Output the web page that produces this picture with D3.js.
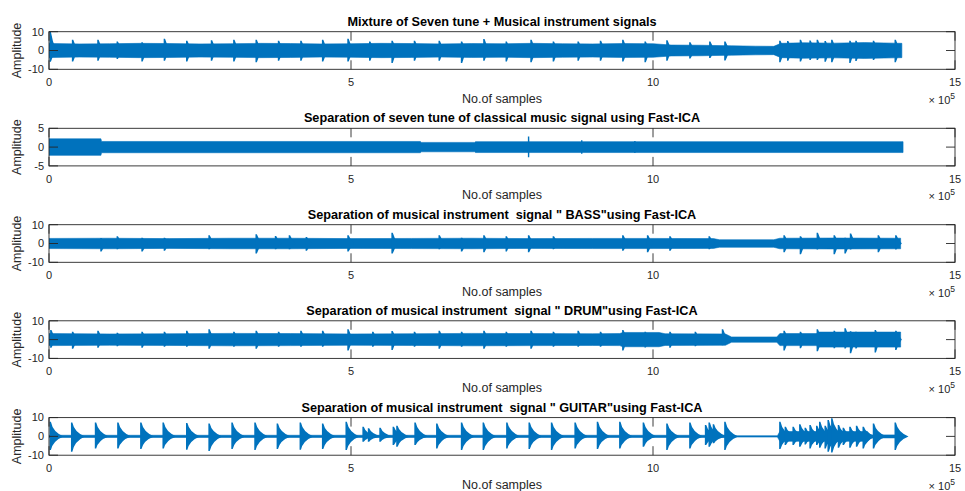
<!DOCTYPE html>
<html><head><meta charset="utf-8">
<script src="https://cdn.jsdelivr.net/npm/d3@7"></script>
<style>
html,body{margin:0;padding:0;background:#fff;}
svg{display:block;font-family:"Liberation Sans",Arial,Helvetica,sans-serif;}
text{white-space:pre;}
</style></head>
<body>
<svg id="c" width="965" height="491"></svg>
<script>
// ---------------- DATA (x in units of 10^5 samples) ----------------
const titles = [
  "Mixture of Seven tune + Musical instrument signals",
  "Separation of seven tune of classical music signal using Fast-ICA",
  "Separation of musical instrument  signal \" BASS\"using Fast-ICA",
  "Separation of musical instrument  signal \" DRUM\"using Fast-ICA",
  "Separation of musical instrument  signal \" GUITAR\"using Fast-ICA"
];
const xTicks = [0, 5, 10, 15];
const xTickLabels = ["0", "5", "10", "15"];
const yTicks1 = [-10, 0, 10];
const yTicks2 = [-5, 0, 5];
const xLabel = "No.of samples";
const yLabel = "Amplitude";

// Mixture: envelope + spikes
const mixEnvX = [0, 0.05, 0.5, 1, 1.5, 2, 2.5, 3, 3.5, 4, 4.5, 5, 5.5, 6, 6.5, 7, 7.5, 8, 8.5, 9, 9.5, 10, 10.3, 10.8, 11.3, 11.7, 12.0, 12.12, 12.5, 13, 13.5, 14, 14.12];
const mixEnvA = [3.9, 3.7, 3.5, 3.6, 3.8, 3.7, 3.5, 3.6, 3.8, 3.7, 3.5, 3.6, 3.8, 3.7, 3.5, 3.7, 3.6, 3.8, 3.6, 3.5, 3.7, 3.6, 2.9, 2.8, 2.5, 2.3, 2.2, 3.8, 4.1, 3.9, 4.2, 3.9, 3.8];
const mixSpkX  = [0.02,0.39,0.81,1.13,1.54,1.91,2.28,2.69,3.06,3.43,3.80,4.17,4.53,4.95,5.31,5.68,6.05,6.46,6.83,7.20,7.57,7.98,8.35,8.76,9.13,9.50,9.87,10.23,10.61,10.94,11.19,12.10,12.23,12.44,12.60,12.72,12.85,12.96,13.26,13.36,13.65,14.01];
const mixSpkUp = [9.8,5.7,5.7,4.8,4.4,6.2,5.2,5.4,5.7,5.7,5.2,5.2,5.7,6.2,4.8,5.2,5.2,5.2,4.8,6.1,4.8,5.7,4.8,4.8,5.2,5.7,4.8,5.5,4.4,4.8,4.8,5.2,5.0,5.7,5.3,5.7,5.0,5.7,5.2,5.2,5.2,5.7];
const mixSpkDn = [6.0,5.9,5.4,4.5,5.9,5.4,5.9,5.4,5.9,6.3,5.4,5.4,5.9,5.9,5.4,6.6,5.4,5.4,6.6,5.4,5.9,6.3,5.9,5.4,5.4,5.9,6.3,5.4,4.2,4.0,5.3,6.3,5.5,5.9,5.0,5.0,6.0,6.3,6.6,5.6,5.0,6.2];

// Seven tune (classical): envelope + a few spikes
const tuneEnvX = [0, 0.86, 0.87, 6.15, 6.16, 7.05, 7.06, 14.14];
const tuneEnvA = [2.2, 2.2, 1.5, 1.5, 1.25, 1.25, 1.45, 1.45];
const tuneSpkX  = [7.94, 8.82, 9.70];
const tuneSpkUp = [2.8, 1.8, 1.6];
const tuneSpkDn = [2.7, 1.8, 1.6];

// Bass
const bassEnvX = [0, 1, 2, 3, 4, 5, 6, 7, 8, 9, 10, 11.0, 11.1, 12.0, 12.1, 13, 14.1];
const bassEnvA = [2.7, 2.8, 2.6, 2.8, 2.8, 2.6, 2.7, 2.8, 2.6, 2.7, 2.7, 2.6, 2.0, 2.0, 2.8, 2.9, 2.8];
const bassSpkX  = [0.86,1.13,1.54,1.91,2.65,3.43,3.75,3.98,4.26,4.95,5.68,6.46,6.83,7.20,7.57,7.94,8.35,9.50,9.91,10.28,10.93,12.17,12.44,12.72,13.00,13.18,13.27,13.73,14.02];
const bassSpkUp = [2.9,3.8,3.0,3.0,4.4,4.9,4.0,4.4,3.5,4.4,5.7,4.4,3.0,4.4,3.8,4.4,3.8,4.4,4.4,3.8,3.8,4.4,3.8,5.7,4.4,3.0,5.3,4.4,4.4];
const bassSpkDn = [4.2,3.0,4.2,3.8,3.0,5.3,3.0,3.0,3.8,4.2,5.3,3.0,4.2,4.7,4.2,4.7,3.0,3.8,4.7,3.8,3.0,4.7,5.7,3.2,5.7,5.3,3.2,4.7,3.2];

// Drum
const drumEnvX = [0, 1, 2, 3, 4, 5, 6, 7, 8, 9, 9.45, 9.5, 10.1, 10.2, 11.2, 11.3, 12.05, 12.1, 12.7, 12.75, 14.1];
const drumEnvA = [3.2, 3.0, 3.1, 3.3, 3.2, 3.0, 3.1, 3.3, 3.2, 3.1, 3.2, 3.8, 3.8, 3.1, 3.0, 1.4, 1.4, 3.2, 3.2, 4.0, 4.0];
const drumSpkX  = [0.03,0.39,0.81,1.13,1.54,1.91,2.28,2.65,3.06,3.43,3.80,4.17,4.53,4.95,5.36,5.68,6.05,6.46,6.83,7.20,7.57,7.98,8.35,8.76,9.13,9.50,9.87,10.28,10.70,11.15,12.17,12.44,12.72,13.00,13.18,13.27,13.36,13.68,14.02];
const drumSpkUp = [5.1,4.2,4.7,3.6,4.2,4.2,4.7,5.5,4.2,4.7,4.2,4.7,4.7,5.5,4.2,4.6,4.2,4.7,4.2,4.7,4.2,4.7,4.2,4.7,4.2,5.1,4.2,4.2,4.2,5.5,4.7,4.2,5.5,4.7,6.0,4.4,4.2,5.1,4.7];
const drumSpkDn = [4.4,4.9,4.4,3.6,4.4,3.8,3.8,4.9,3.8,4.9,3.8,3.8,3.8,5.8,3.8,5.5,3.8,4.9,3.8,4.9,3.8,4.9,3.8,3.8,3.8,5.8,4.2,4.4,3.6,3.0,5.8,4.6,6.2,4.6,4.8,7.3,4.8,6.8,5.5];

// Guitar
const gtrEnvX = [0, 11.25, 11.3, 12.06, 12.1, 13.55, 13.6, 14.12];
const gtrEnvA = [0.6, 0.6, 0.35, 0.35, 2.6, 2.6, 0.8, 0.8];
const gtrSpkX  = [0.02,0.375,0.77,1.14,1.52,1.89,2.28,2.65,3.03,3.41,3.78,4.16,4.53,4.92,5.20,5.29,5.48,5.70,5.76,6.06,6.42,6.83,7.19,7.58,7.95,8.32,8.71,9.08,9.45,9.84,10.23,10.61,10.87,10.93,11.00,11.19,12.10,12.19,12.32,12.43,12.52,12.60,12.71,12.76,12.85,12.90,12.96,13.07,13.15,13.26,13.37,13.48,13.65,14.01];
const gtrSpkUp = [7.8,7.4,7.4,7.4,7.4,7.4,7.1,6.9,7.4,7.4,6.9,7.4,6.9,7.8,5.1,4.3,4.6,5.1,5.7,7.4,6.9,7.4,7.4,7.4,7.4,7.4,7.4,7.8,7.8,7.4,6.9,7.4,6.0,7.4,6.4,7.8,7.8,5.1,5.1,6.4,4.6,6.0,5.7,7.8,5.7,8.7,9.6,6.0,4.6,5.1,5.7,5.1,6.9,7.4];
const gtrSpkDn = [7.3,8.2,6.4,6.4,6.7,6.4,7.1,7.8,6.7,7.3,6.7,7.1,6.7,7.3,2.8,2.8,2.8,4.6,5.5,4.6,6.4,7.3,7.3,6.4,6.7,7.3,6.4,6.7,6.4,5.5,7.3,6.4,4.6,5.5,3.7,7.3,6.7,4.6,4.6,5.5,4.3,6.4,4.6,6.0,6.4,8.2,8.5,6.0,4.6,6.0,5.5,6.4,6.4,7.3];

// ---------------- LAYOUT ----------------
const L = 49, R = 955, H = 37.6;
const tops = [31.7, 128.3, 224.7, 320.8, 417.6];
const BLUE = "#0072BD", AX = "#262626";
const svg = d3.select("#c");

const zip = (a, b) => a.map((v, i) => [v, b[i]]);
const panels = [
  {env: zip(mixEnvX, mixEnvA), sx: mixSpkX, su: mixSpkUp, sd: mixSpkDn, yt: yTicks1, w: 0.1, k: 0.35, c: 0.5},
  {env: zip(tuneEnvX, tuneEnvA), sx: tuneSpkX, su: tuneSpkUp, sd: tuneSpkDn, yt: yTicks2, w: 0.02, k: 0.5, c: 0.5},
  {env: zip(bassEnvX, bassEnvA), sx: bassSpkX, su: bassSpkUp, sd: bassSpkDn, yt: yTicks1, w: 0.1, k: 0.35, c: 0.5},
  {env: zip(drumEnvX, drumEnvA), sx: drumSpkX, su: drumSpkUp, sd: drumSpkDn, yt: yTicks1, w: 0.1, k: 0.35, c: 0.5},
  {env: zip(gtrEnvX, gtrEnvA), sx: gtrSpkX, su: gtrSpkUp, sd: gtrSpkDn, yt: yTicks1, w: 0.22, k: 0.2, c: 0.3}
];

const x = d3.scaleLinear().domain([0, 15]).range([L, R]);
const defs = svg.append("defs");

panels.forEach((p, i) => {
  const top = tops[i], bot = top + H;
  const yd = d3.extent(p.yt);
  const y = d3.scaleLinear().domain(yd).range([bot, top]);
  const g = svg.append("g");

  defs.append("clipPath").attr("id", "clip" + i).append("rect")
    .attr("x", L).attr("y", top).attr("width", R - L).attr("height", H);
  const gd = g.append("g").attr("clip-path", `url(#clip${i})`);

  // envelope
  const area = d3.area().x(d => x(d[0])).y0(d => y(-d[1])).y1(d => y(d[1]));
  gd.append("path").datum(p.env).attr("d", area).attr("fill", BLUE).attr("stroke", BLUE).attr("stroke-width", 0.6);

  // spikes / attacks
  p.sx.forEach((sx, j) => {
    const up = p.su[j], dn = p.sd[j];
    const x0 = x(sx), xw = x(sx + p.w), xc = x0 + (xw - x0) * p.k;
    const path = d3.path();
    path.moveTo(x0 - 0.7, y(0));
    path.lineTo(x0 - 0.7, y(up));
    path.lineTo(x0 + 0.7, y(up));
    path.quadraticCurveTo(xc, y(up * p.c), xw, y(0));
    path.quadraticCurveTo(xc, y(-dn * p.c), x0 + 0.7, y(-dn));
    path.lineTo(x0 - 0.7, y(-dn));
    path.closePath();
    gd.append("path").attr("d", path.toString()).attr("fill", BLUE);
  });

  // box
  g.append("rect").attr("x", L).attr("y", top).attr("width", R - L).attr("height", H)
    .attr("fill", "none").attr("stroke", AX).attr("stroke-width", 0.9);
  // ticks (inside, all four sides)
  const TL = 9;
  xTicks.forEach((t, j) => {
    g.append("line").attr("x1", x(t)).attr("x2", x(t)).attr("y1", bot).attr("y2", bot - TL).attr("stroke", AX).attr("stroke-width", 0.9);
    g.append("line").attr("x1", x(t)).attr("x2", x(t)).attr("y1", top).attr("y2", top + TL).attr("stroke", AX).attr("stroke-width", 0.9);
    g.append("text").attr("x", x(t)).attr("y", bot + 17).attr("text-anchor", "middle")
      .attr("font-size", 11).attr("fill", AX).text(xTickLabels[j]);
  });
  p.yt.forEach(t => {
    g.append("line").attr("x1", L).attr("x2", L + TL).attr("y1", y(t)).attr("y2", y(t)).attr("stroke", AX).attr("stroke-width", 0.9);
    g.append("line").attr("x1", R).attr("x2", R - TL).attr("y1", y(t)).attr("y2", y(t)).attr("stroke", AX).attr("stroke-width", 0.9);
    g.append("text").attr("x", 44).attr("y", y(t)).attr("dy", "0.35em").attr("text-anchor", "end")
      .attr("font-size", 11).attr("fill", AX).text(String(t));
  });
  // title
  g.append("text").attr("x", (L + R) / 2).attr("y", top - 6).attr("text-anchor", "middle")
    .attr("font-size", 12.7).attr("font-weight", "bold").attr("fill", "#000").text(titles[i]);
  // x label
  g.append("text").attr("x", (L + R) / 2).attr("y", bot + 33.5).attr("text-anchor", "middle")
    .attr("font-size", 12.5).attr("fill", AX).text(xLabel);
  // exponent
  const ex = g.append("text").attr("x", R).attr("y", bot + 34.5).attr("text-anchor", "end")
    .attr("font-size", 11).attr("fill", AX);
  ex.append("tspan").text("\u00D7 10");
  ex.append("tspan").attr("font-size", 8.5).attr("dy", -5).text("5");
  // y label
  g.append("text").attr("transform", `translate(21,${(top + bot) / 2}) rotate(-90)`)
    .attr("text-anchor", "middle").attr("font-size", 12.5).attr("fill", AX).text(yLabel);
});
</script>
</body></html>
